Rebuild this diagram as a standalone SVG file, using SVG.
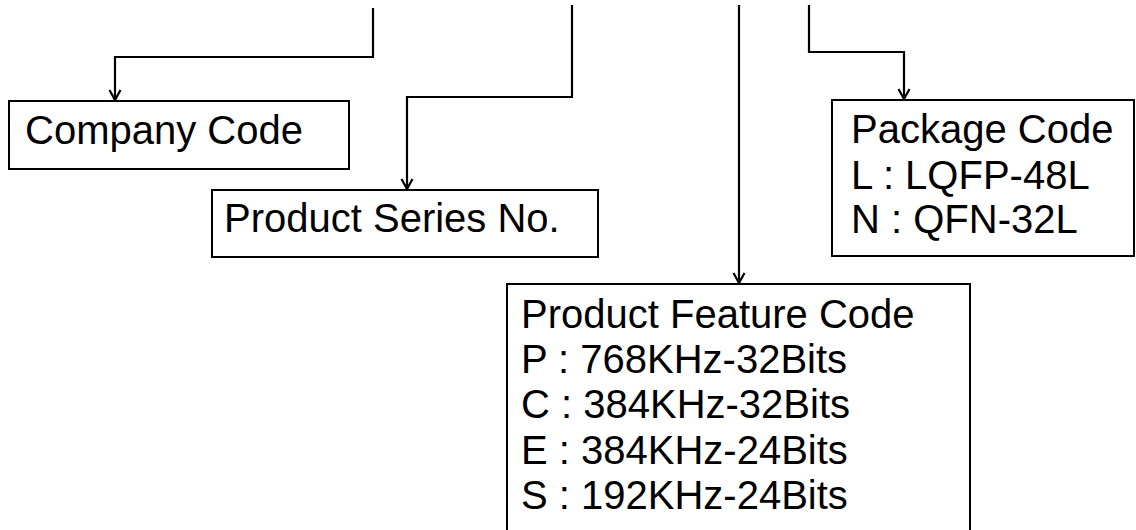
<svg xmlns="http://www.w3.org/2000/svg" width="1136" height="530" viewBox="0 0 1136 530">
<style>
.box{fill:#fff;stroke:#000;stroke-width:2}
.t{font-family:"Liberation Sans",Arial,sans-serif;font-size:40px;fill:#000}
.c{fill:none;stroke:#000;stroke-width:2.2}
</style>
<defs>
<marker id="arr" markerUnits="userSpaceOnUse" markerWidth="16" markerHeight="16" refX="8" refY="14" orient="auto" viewBox="0 0 16 16">
<path d="M2,4 L8,14 L14,4" fill="none" stroke="#000" stroke-width="2.2" transform="rotate(-90 8 8)"/>
</marker>
<marker id="a" markerUnits="userSpaceOnUse" markerWidth="16" markerHeight="14" refX="8" refY="12" orient="0" viewBox="0 0 16 14">
<path d="M2.5,2 L8,12 L13.5,2" fill="none" stroke="#000" stroke-width="2.2"/>
</marker>
</defs>
<g id="connectors">
<path class="c" d="M373,8 V57 H115 V100" marker-end="url(#a)"/>
<path class="c" d="M572,5 V97 H407 V189" marker-end="url(#a)"/>
<path class="c" d="M739,5 V283" marker-end="url(#a)"/>
<path class="c" d="M809,5 V52 H904 V99" marker-end="url(#a)"/>
</g>
<g id="company-code">
<rect class="box" x="9" y="101" width="340" height="68"/>
<text class="t" x="25" y="144">Company Code</text>
</g>
<g id="product-series">
<rect class="box" x="212" y="190" width="386" height="67"/>
<text class="t" x="224" y="232">Product Series No.</text>
</g>
<g id="package-code">
<rect class="box" x="832" y="100" width="302" height="156"/>
<text class="t" x="851" y="143">Package Code</text>
<text class="t" x="851" y="189">L : LQFP-48L</text>
<text class="t" x="851" y="233">N : QFN-32L</text>
</g>
<g id="feature-code">
<rect class="box" x="507" y="284" width="463" height="260"/>
<text class="t" x="521" y="328">Product Feature Code</text>
<text class="t" x="521" y="373">P : 768KHz-32Bits</text>
<text class="t" x="521" y="418">C : 384KHz-32Bits</text>
<text class="t" x="521" y="464">E : 384KHz-24Bits</text>
<text class="t" x="521" y="509">S : 192KHz-24Bits</text>
</g>
</svg>
